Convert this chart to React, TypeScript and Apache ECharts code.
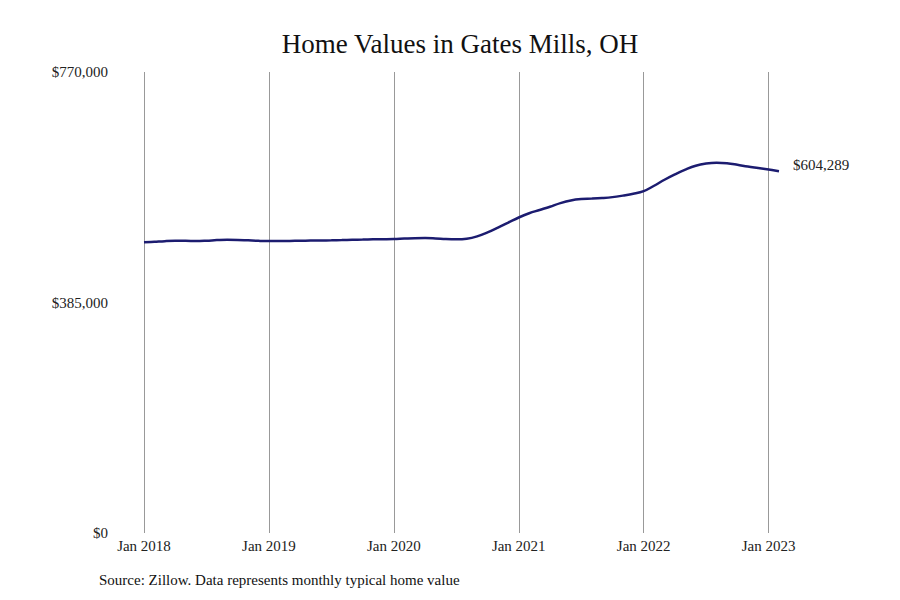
import { useEffect, useRef } from 'react';
import * as echarts from 'echarts';

// Monthly typical home value, Jan 2018 .. Feb 2023
const months: string[] = [];
const yearLabels = ['2018', '2019', '2020', '2021', '2022', '2023'];
const monthNames = ['Jan', 'Feb', 'Mar', 'Apr', 'May', 'Jun', 'Jul', 'Aug', 'Sep', 'Oct', 'Nov', 'Dec'];
yearLabels.forEach((y) => monthNames.forEach((m) => months.push(`${m} ${y}`)));
const categories = months.slice(0, 62);

const values2018 = [485600, 486500, 487500, 488000, 488000, 487800, 488300, 489200, 489800, 489600, 488800, 488000];
const values2019 = [487600, 487700, 487900, 488200, 488400, 488500, 488800, 489200, 489700, 490100, 490500, 490700];
const values2020 = [491000, 491800, 492500, 492600, 492000, 491000, 490600, 491600, 495500, 502000, 510000, 518500];
const values2021 = [527000, 534000, 539500, 545000, 551000, 555500, 557800, 558500, 559500, 561000, 563500, 566500];
const values2022 = [571000, 580000, 590000, 599000, 607000, 613500, 617000, 618300, 617500, 615000, 612000, 609500];
const values2023 = [607000, 604289];

const homeValues = [...values2018, ...values2019, ...values2020, ...values2021, ...values2022, ...values2023];

const yTicks = [0, 385000, 770000];

const SERIF = '"Liberation Serif", "DejaVu Serif", serif';

const fmtMoney = (v: number) => '$' + v.toLocaleString('en-US');

const App = () => {
  const chartRef = useRef<HTMLDivElement>(null);

  useEffect(() => {
    if (!chartRef.current) return;
    const chart = echarts.init(chartRef.current, undefined, { renderer: 'svg' });

    const option: echarts.EChartsOption = {
      animation: false,
      backgroundColor: '#ffffff',
      textStyle: { fontFamily: SERIF },
      graphic: [
        {
          type: 'text',
          x: 460,
          y: 44,
          style: {
            text: 'Home Values in Gates Mills, OH',
            fontFamily: SERIF,
            fontSize: 27,
            fill: '#111',
            textAlign: 'center',
            textVerticalAlign: 'middle',
          },
        },
        {
          type: 'text',
          x: 99,
          y: 580,
          style: {
            text: 'Source: Zillow. Data represents monthly typical home value',
            fontFamily: SERIF,
            fontSize: 15,
            fill: '#111',
            textAlign: 'left',
            textVerticalAlign: 'middle',
          },
        },
      ],
      grid: {
        left: 144,
        right: 121,
        top: 72,
        bottom: 67,
        containLabel: false,
      },
      xAxis: {
        type: 'category',
        data: categories,
        boundaryGap: false,
        axisLine: { show: false },
        axisTick: { show: false },
        axisLabel: {
          interval: 11,
          color: '#222',
          fontSize: 15,
          fontFamily: SERIF,
          margin: 5,
        },
        splitLine: {
          show: true,
          interval: 11,
          lineStyle: { color: '#999', width: 1 },
        },
      },
      yAxis: {
        type: 'value',
        min: yTicks[0],
        max: yTicks[2],
        interval: yTicks[1],
        axisLine: { show: false },
        axisTick: { show: false },
        splitLine: { show: false },
        axisLabel: {
          color: '#222',
          fontSize: 15,
          fontFamily: SERIF,
          margin: 36,
          formatter: (v: number) => fmtMoney(v),
        },
      },
      series: [
        {
          type: 'line',
          data: homeValues,
          smooth: 0.4,
          showSymbol: false,
          lineStyle: { color: '#1c1c70', width: 2.5 },
          endLabel: {
            show: true,
            distance: 14,
            offset: [0, -6],
            color: '#222',
            fontSize: 15,
            fontFamily: SERIF,
            formatter: (p: any) => fmtMoney(p.value),
          },
        },
      ],
    };

    chart.setOption(option);
    return () => chart.dispose();
  }, []);

  return (
    <div
      ref={chartRef}
      style={{ position: 'fixed', left: 0, top: 0, width: 900, height: 600, background: '#fff' }}
    />
  );
};

export default App;
